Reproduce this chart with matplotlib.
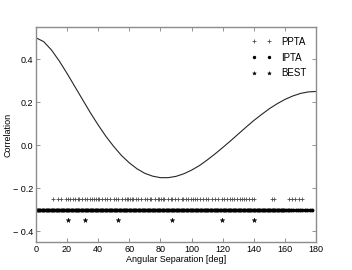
import matplotlib
matplotlib.use('Agg')
import matplotlib.pyplot as plt
from matplotlib.ticker import FuncFormatter

theta = [0, 5, 10, 15, 20, 25, 30, 35, 40, 45, 50, 55, 60, 65, 70, 75, 80, 85, 90,
         95, 100, 105, 110, 115, 120, 125, 130, 135, 140, 145, 150, 155, 160, 165,
         170, 175, 180]
corr = [0.500, 0.482, 0.443, 0.392, 0.334, 0.273, 0.212, 0.151, 0.094, 0.041,
        -0.006, -0.048, -0.082, -0.110, -0.131, -0.144, -0.151, -0.151, -0.145,
        -0.133, -0.116, -0.095, -0.069, -0.041, -0.011, 0.020, 0.052, 0.084,
        0.115, 0.143, 0.170, 0.193, 0.213, 0.229, 0.241, 0.248, 0.250]

# pair separations
ppta = [10.9, 14.1, 16.2, 19.4, 20.8, 22.0, 23.6, 25.3, 27.0, 27.8, 29.9, 31.6,
        33.0, 34.5, 36.2, 37.3, 38.3, 39.6, 40.4, 42.5, 44.2, 45.7, 47.8, 49.9,
        51.4, 53.0, 55.2, 57.3, 58.3, 59.0, 60.4, 61.5, 62.5, 64.0, 65.7, 67.8,
        69.9, 71.6, 73.0, 74.1, 76.2, 78.3, 79.4, 80.4, 81.5, 82.5, 84.6, 86.7,
        87.3, 89.4, 91.6, 93.7, 94.8, 96.5, 98.0, 99.5, 101.2, 102.3, 103.3,
        105.5, 107.6, 109.3, 110.8, 113.0, 115.1, 117.3, 119.4, 121.1, 122.6,
        124.4, 125.9, 127.4, 129.1, 130.9, 132.4, 133.4, 135.2, 136.7, 138.8,
        139.9, 151.7, 152.8, 162.4, 164.6, 166.7, 168.9, 171.0]
ipta = [0.4, 1.2, 2.1, 2.9, 3.6, 4.5, 5.3, 6.2, 7.0, 7.7, 8.6, 9.4, 10.1, 10.9,
        11.8, 12.6, 13.3, 14.2, 15.0, 15.9, 16.7, 17.4, 18.3, 19.1, 19.8, 20.7,
        21.5, 22.4, 23.2, 23.9, 24.8, 25.6, 26.3, 27.2, 28.0, 28.9, 29.7, 30.4,
        31.3, 32.1, 32.8, 33.7, 34.5, 35.4, 36.2, 36.9, 37.8, 38.6, 39.3, 40.2,
        41.0, 41.9, 42.7, 43.4, 44.3, 45.1, 45.8, 46.7, 47.5, 48.4, 49.2, 49.9,
        50.8, 51.6, 52.3, 53.2, 54.0, 54.9, 55.7, 56.4, 57.3, 58.1, 58.8, 59.7,
        60.5, 61.4, 62.2, 62.9, 63.8, 64.6, 65.3, 66.2, 67.0, 67.9, 68.7, 69.4,
        70.3, 71.1, 71.8, 72.7, 73.5, 74.4, 75.2, 75.9, 76.8, 77.6, 78.3, 79.2,
        80.0, 80.9, 81.7, 82.4, 83.3, 84.1, 84.8, 85.7, 86.5, 87.4, 88.2, 88.9,
        89.8, 90.6, 91.3, 92.2, 93.0, 93.9, 94.7, 95.4, 96.3, 97.1, 97.8, 98.7,
        99.5, 100.4, 101.2, 101.9, 102.8, 103.6, 104.3, 105.2, 106.0, 106.9,
        107.7, 108.4, 109.3, 110.1, 110.8, 111.7, 112.5, 113.4, 114.2, 114.9,
        115.8, 116.6, 117.3, 118.2, 119.0, 119.9, 120.7, 121.4, 122.3, 123.1,
        123.8, 124.7, 125.5, 126.4, 127.2, 127.9, 128.8, 129.6, 130.3, 131.2,
        132.0, 132.9, 133.7, 134.4, 135.3, 136.1, 136.8, 137.7, 138.5, 139.4,
        140.2, 140.9, 141.8, 142.6, 143.3, 144.2, 145.0, 145.9, 146.7, 147.4,
        148.3, 149.1, 149.8, 150.7, 151.5, 152.4, 153.2, 153.9, 154.8, 155.6,
        156.3, 157.2, 158.0, 158.9, 159.7, 160.6, 161.8, 162.9, 164.1, 165.4,
        166.8, 168.2, 169.5, 171.0, 172.6, 174.1, 175.9, 177.2]
best = [20.5, 31.8, 52.5, 87.5, 119.5, 140.0]

# y level each set is drawn at
ppta_y, ipta_y, best_y = -0.25, -0.30, -0.35

plt.rcParams['font.family'] = ['Liberation Sans', 'DejaVu Sans']
plt.rcParams['font.size'] = 6.5

fig = plt.figure(figsize=(3.52, 2.70), dpi=100)
ax = fig.add_axes([0.102, 0.104, 0.796, 0.796])

ax.plot(theta, corr, color='0.15', lw=0.8)
ax.plot(ppta, [ppta_y] * len(ppta), '+', color='0.3', ms=3.2, mew=0.6, label='PPTA')
ax.plot(ipta, [ipta_y] * len(ipta), '.', color='k', ms=3.6, label='IPTA')
ax.plot(best, [best_y] * len(best), '*', color='k', ms=3.5, mew=0.3, label='BEST')

ax.set_xlim(0, 180)
ax.set_ylim(-0.45, 0.55)
ax.set_xticks([0, 20, 40, 60, 80, 100, 120, 140, 160, 180])
ax.set_yticks([-0.4, -0.2, 0.0, 0.2, 0.4])


def yfmt(v, pos):
    s = '%.1f' % abs(v)
    return ('\u2212 ' + s) if v < -1e-9 else s


ax.yaxis.set_major_formatter(FuncFormatter(yfmt))
ax.tick_params(direction='in', top=True, right=True, length=3, width=0.6,
               color='0.5', pad=2)
for sp in ax.spines.values():
    sp.set_color('0.55')
    sp.set_linewidth(1.0)

ax.set_xlabel('Angular Separation [deg]', labelpad=1)
ax.set_ylabel('Correlation')
ax.yaxis.set_label_coords(-0.085, 0.5)

ax.legend(loc='upper right', frameon=False, numpoints=2, handlelength=2.2,
          handletextpad=0.9, labelspacing=0.6, borderaxespad=0.6,
          fontsize=7, markerscale=0.8)

fig.savefig('out.png', dpi=100)
